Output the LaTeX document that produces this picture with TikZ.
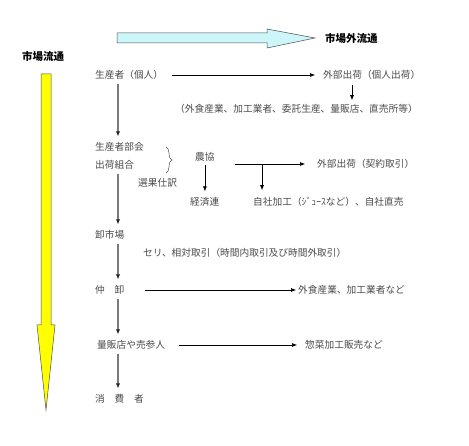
\documentclass[tikz,border=0pt]{standalone}
\usepackage{fontspec}
\setmainfont{Noto Sans CJK JP}
\usepackage{xcolor}
\usepackage{tikz}
\usetikzlibrary{
  arrows.meta,
  decorations.pathreplacing
}

\definecolor{textgray}{HTML}{4A4A4A}
\definecolor{linegray}{HTML}{7A7A7A}
\definecolor{paleblue}{HTML}{CCF6F9}
\definecolor{flowyellow}{HTML}{FFFF00}

\tikzset{
  label-text/.style={anchor=west, inner sep=0pt, text=textgray,
    font=\fontsize{9.7}{11}\selectfont},
  title-text/.style={anchor=west, inner sep=0pt,
    font=\fontsize{10.5}{12}\selectfont\bfseries},
  main-flow/.style={draw=linegray, line width=1.2pt,
    -{Latex[length=5pt,width=4.5pt,color=black!85]},
    shorten <=4pt, shorten >=6pt},
  side-flow/.style={draw=black, line width=0.6pt,
    -{Latex[length=5pt,width=4pt]}}
}

\begin{document}
\begin{tikzpicture}[x=1pt,y=-1pt]
\useasboundingbox (0,0) rectangle (469,446);

% big arrows
\draw[fill=paleblue, draw=black!70, line width=0.5pt]
  (117,33) -- (267,33) -- (267,29) -- (315,38) -- (267,48) -- (267,43) -- (117,43) -- cycle;
\draw[fill=flowyellow, draw=black!70, line width=0.5pt]
  (41,74) -- (51,74) -- (51,325) -- (55,325) -- (46,410) -- (37,325) -- (41,325) -- cycle;

\node[title-text] (outside-title) at (325,39) {市場外流通};
\node[title-text] (market-title) at (22,57) {市場流通};

% text nodes
\node[label-text] (producer) at (95,75) {生産者（個人）};
\node[label-text] (direct-ship) at (323,75) {外部出荷（個人出荷）};
\node[label-text] (direct-buyers) at (175,109) {（外食産業、加工業者、委託生産、量販店、直売所等）};
\node[label-text] (producer-group) at (95,147) {生産者部会};
\node[label-text] (ship-union) at (95,165) {出荷組合};
\node[label-text] (sorting) at (138,183) {選果仕訳};
\node[label-text] (nokyo) at (195,157) {農協};
\node[label-text] (keizairen) at (190,202) {経済連};
\node[label-text] (contract-ship) at (317,164) {外部出荷（契約取引）};
\node[label-text] (own-process) at (253,202) {自社加工（ｼﾞｭｰｽなど）、自社直売};
\node[label-text] (wholesale-market) at (95,235) {卸市場};
\node[label-text] (auction) at (143,253) {セリ、相対取引（時間内取引及び時間外取引）};
\node[label-text] (middle-wholesale) at (95,290) {仲　卸};
\node[label-text] (food-service) at (298,290) {外食産業、加工業者など};
\node[label-text] (retailer) at (97,345) {量販店や売参人};
\node[label-text] (deli) at (305,345) {惣菜加工販売など};
\node[label-text] (consumer) at (95,399) {消　費　者};

\coordinate (spine) at (118,0);
\coordinate (ship-drop) at (352,0);
\coordinate (branch) at (262,164);

% market flow
\draw[main-flow] (producer.south -| spine) -- (producer-group.north -| spine);
\draw[main-flow] (ship-union.south -| spine) -- (wholesale-market.north -| spine);
\draw[main-flow] (wholesale-market.south -| spine) -- (middle-wholesale.north -| spine);
\draw[main-flow] (middle-wholesale.south -| spine) -- (retailer.north -| spine);
\draw[main-flow] (retailer.south -| spine) -- (consumer.north -| spine);

% side flows
\draw[side-flow, shorten <=9pt, shorten >=8pt] (producer.east) -- (direct-ship.west);
\draw[side-flow, shorten <=5pt, shorten >=4pt] (direct-ship.south -| ship-drop) -- (direct-buyers.north -| ship-drop);
\draw[side-flow, shorten <=3pt, shorten >=6pt] (nokyo.south) -- (keizairen.north -| nokyo.south);
\draw[side-flow, shorten <=20pt, shorten >=12pt] (nokyo.east |- contract-ship.west) -- (contract-ship.west);
\draw[side-flow, shorten >=7pt] (branch) -- (own-process.north -| branch);
\draw[side-flow, shorten <=20pt, shorten >=2pt] (middle-wholesale.east) -- (food-service.west);
\draw[side-flow, shorten <=14pt, shorten >=8pt] (retailer.east) -- (deli.west);

% brace
\draw[textgray, line width=0.5pt, decorate, decoration={brace, amplitude=6pt}]
  (166,147) -- (166,173);
\end{tikzpicture}
\end{document}
